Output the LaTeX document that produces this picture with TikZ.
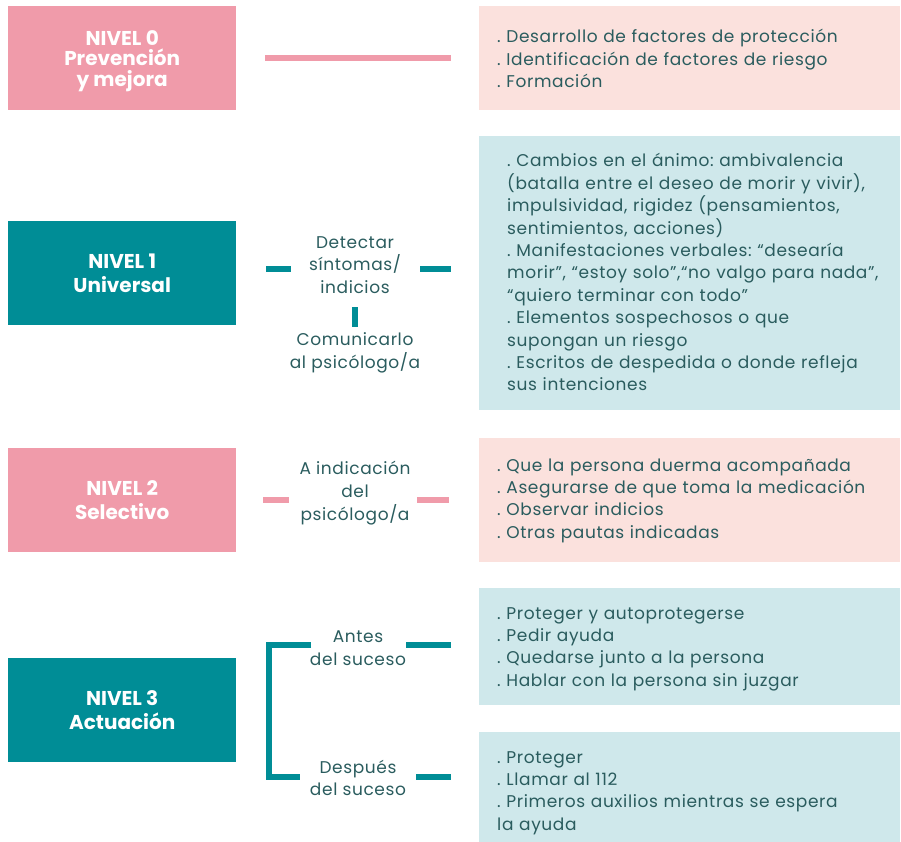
\documentclass[tikz,border=0pt]{standalone}
\usepackage{fontspec}
\setmainfont{Poppins}
\newfontfamily\bodyfont[LetterSpace=3.6]{Poppins}
\definecolor{pinkA}{HTML}{F09BAA}
\definecolor{pinkL}{HTML}{FBE1DD}
\definecolor{tealA}{HTML}{008D96}
\definecolor{tealL}{HTML}{CFE8EB}
\definecolor{txt}{HTML}{2A5C5E}
\begin{document}
\frenchspacing
\begin{tikzpicture}[x=1pt,y=-1pt]
\tikzset{
 lvl/.style={minimum width=228pt, minimum height=104pt, anchor=north west, inner sep=0, align=center, text=white, font=\bfseries\fontsize{20}{24}\selectfont},
 lvltxt/.style={inner sep=0, align=center, text=white, font=\bfseries\fontsize{20}{20.6}\selectfont},
 info/.style={minimum width=421pt, anchor=north west, inner sep=0},
 itext/.style={anchor=base west, align=left, text width=410pt, inner sep=0, text=txt, font=\bodyfont\fontsize{17}{22.4}\selectfont},
 mid/.style={align=center, text=txt, font=\bodyfont\fontsize{17}{22.6}\selectfont, inner sep=0},
 bar/.style={line width=6pt},
}
\useasboundingbox (0,0) rectangle (901,842);
% level 0
\node[lvl, fill=pinkA] (n0) at (8,6) {};
\node[lvltxt] (n0t) at ([yshift=-3pt]n0.center) {NIVEL 0\\Prevención\\y mejora};
\node[info, minimum height=104pt, fill=pinkL] (d0) at (479,6) {};
\node[itext] (t0) at (497,43) {. Desarrollo de factores de protección\\. Identificación de factores de riesgo\\. Formación};
\coordinate (a0) at (265,58); \coordinate (b0) at (451,58);
\draw[bar, pinkA] (a0) -- (b0);
% level 1
\node[lvl, fill=tealA] (n1) at (8,221) {NIVEL 1\\Universal};
\node[info, minimum height=274pt, fill=tealL] (d1) at (479,136) {};
\node[itext] (t1) at (507,167) {. Cambios en el ánimo: ambivalencia\\(batalla entre el deseo de morir y vivir),\\impulsividad, rigidez (pensamientos,\\sentimientos, acciones)\\. Manifestaciones verbales: “desearía\\morir”, “estoy solo”,“no valgo para nada”,\\“quiero terminar con todo”\\. Elementos sospechosos o que\\supongan un riesgo\\. Escritos de despedida o donde refleja\\sus intenciones};
\node[mid] (m1) at (355,265) {Detectar\\síntomas/\\indicios};
\node[mid] (c1) at (355,353) {Comunicarlo\\al psicólogo/a};
\coordinate (a1) at (266,269); \coordinate (a1e) at (291,269);
\coordinate (b1) at (420,269); \coordinate (b1e) at (451,269);
\coordinate (v1) at (355,307); \coordinate (v1e) at (355,327);
\draw[bar, tealA] (a1) -- (a1e);
\draw[bar, tealA] (b1) -- (b1e);
\draw[bar, tealA] (v1) -- (v1e);
% level 2
\node[lvl, fill=pinkA] (n2) at (8,448) {NIVEL 2\\Selectivo};
\node[info, minimum height=124pt, fill=pinkL] (d2) at (479,438) {};
\node[itext] (t2) at (497,471) {. Que la persona duerma acompañada\\. Asegurarse de que toma la medicación\\. Observar indicios\\. Otras pautas indicadas};
\node[mid] (m2) at (355,493) {A indicación\\del\\psicólogo/a};
\coordinate (a2) at (263,500); \coordinate (a2e) at (289,500);
\coordinate (b2) at (417,500); \coordinate (b2e) at (449,500);
\draw[bar, pinkA] (a2) -- (a2e);
\draw[bar, pinkA] (b2) -- (b2e);
% level 3
\node[lvl, fill=tealA] (n3) at (8,658) {NIVEL 3\\Actuación};
\node[info, minimum height=117pt, fill=tealL] (d3a) at (479,588) {};
\node[itext] (t3a) at (497,619) {. Proteger y autoprotegerse\\. Pedir ayuda\\. Quedarse junto a la persona\\. Hablar con la persona sin juzgar};
\node[info, minimum height=110pt, fill=tealL] (d3b) at (479,732) {};
\node[itext] (t3b) at (497,763) {. Proteger\\. Llamar al 112\\. Primeros auxilios mientras se espera\\la ayuda};
\node[mid] (m3a) at (358,648) {Antes\\del suceso};
\node[mid] (m3b) at (358,778) {Después\\del suceso};
\coordinate (k1) at (311,645); \coordinate (k0) at (269,645);
\coordinate (k3) at (269,777); \coordinate (k2) at (300,777);
\draw[bar, tealA] (k1) -- (k0) -- (k3) -- (k2);
\coordinate (r1) at (406,645); \coordinate (r1e) at (451,645);
\coordinate (r2) at (416,777); \coordinate (r2e) at (451,777);
\draw[bar, tealA] (r1) -- (r1e);
\draw[bar, tealA] (r2) -- (r2e);
\end{tikzpicture}
\end{document}
